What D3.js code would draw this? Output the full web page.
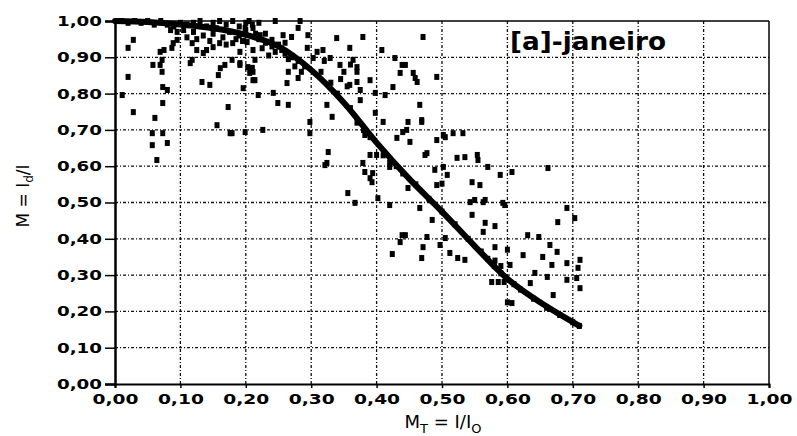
<!DOCTYPE html>
<html>
<head>
<meta charset="utf-8">
<script src="https://cdn.jsdelivr.net/npm/d3@7"></script>
<style>
  html, body { margin: 0; padding: 0; background: #fff; }
  svg { display: block; }
</style>
</head>
<body>
<svg id="chart" width="797" height="436"></svg>
<script>
// ---- data ----
const xTicks = [0, 0.1, 0.2, 0.3, 0.4, 0.5, 0.6, 0.7, 0.8, 0.9, 1.0];
const yTicks = [0, 0.1, 0.2, 0.3, 0.4, 0.5, 0.6, 0.7, 0.8, 0.9, 1.0];
const tickLabels = ["0,00","0,10","0,20","0,30","0,40","0,50","0,60","0,70","0,80","0,90","1,00"];
const titleText = "[a]-janeiro";

// fitted curve
const curveX = [0, 0.05, 0.1, 0.15, 0.2, 0.25, 0.3, 0.35, 0.4, 0.45, 0.5, 0.55, 0.6, 0.65, 0.71];
const curveY = [1.0, 0.997, 0.99, 0.98, 0.962, 0.93, 0.865, 0.775, 0.665, 0.565, 0.475, 0.38, 0.29, 0.225, 0.16];

// observed points
const scatterX = [
 0.028,0.020,0.058,0.069,0.072,0.069,0.072,0.020,0.073,0.080,0.011,0.073,0.028,0.061,0.057,0.073,0.057,0.080,0.064,0.087,0.089,0.095,0.075,
 0.01,0.02,0.03,0.04,0.05,0.06,0.07,0.08,0.09,0.10,0.095,0.085,
 0.115,0.133,0.145,0.156,0.161,0.168,0.173,0.118,0.125,0.118,0.135,0.150,0.160,0.158,0.179,0.191,0.180,0.203,0.211,0.211,0.179,0.199,
 0.11,0.12,0.13,0.14,0.15,0.16,0.17,0.18,0.19,0.12,0.135,0.15,0.165,0.175,0.19,0.20,0.105,0.125,0.145,0.155,0.185,0.195,0.17,0.14,0.11,0.20,0.205,0.21,0.22,
 0.199,0.211,0.245,0.283,0.280,0.257,0.270,0.240,0.222,0.202,0.191,0.211,0.214,0.191,0.210,0.214,0.206,0.196,0.219,0.242,0.249,0.263,0.265,0.280,0.295,0.294,0.309,0.318,0.303,0.339,0.329,0.344,0.324,0.332,0.326,0.324,0.298,0.298,0.226,0.176,0.265,
 0.22,0.23,0.24,0.25,0.26,0.27,0.28,0.29,0.23,0.245,0.255,0.265,0.275,0.285,0.225,0.235,0.26,0.215,
 0.379,0.471,0.408,0.428,0.439,0.444,0.436,0.456,0.462,0.492,0.425,0.398,0.413,0.390,0.370,0.375,0.466,0.398,0.410,0.448,0.469,0.440,0.451,0.431,0.492,0.502,0.517,0.532,0.477,0.523,0.535,0.502,0.508,0.489,0.492,0.500,0.382,0.390,0.400,0.420,0.448,
 0.359,0.364,0.370,0.359,0.382,0.375,
 0.33,0.34,0.36,0.37,0.38,0.39,0.41,0.42,0.43,0.44,
 0.35,0.36,0.345,0.355,0.37,0.32,0.315,
 0.459,0.469,0.446,0.505,0.474,0.554,0.555,0.570,0.589,0.607,0.662,0.546,0.558,0.543,0.563,0.593,
 0.321,0.356,0.367,0.379,0.390,0.394,0.393,
 0.402,0.420,0.466,0.485,0.439,0.444,0.436,0.477,0.471,0.424,0.469,0.497,0.505,0.512,0.524,0.535,
 0.550,0.566,0.546,0.566,0.581,0.596,0.691,0.703,0.677,0.563,0.581,0.631,0.648,0.665,0.676,0.624,0.654,0.668,0.691,0.711,0.708,0.642,0.661,0.691,0.706,0.711,0.576,0.586,0.595,0.607,0.600,0.635,0.670,0.604,0.600,0.581,0.590,
 0.46,0.48,0.50,0.52,0.54,0.56,0.57,0.58,0.59,0.61,0.62,0.64,0.66,0.68,0.70,0.71
];
const scatterY = [
 0.948,0.926,0.879,0.915,0.893,0.879,0.860,0.846,0.818,0.810,0.796,0.774,0.749,0.733,0.691,0.691,0.658,0.664,0.617,0.926,0.939,0.948,0.920,
 1.0,0.995,1.0,0.995,1.0,0.99,1.0,0.99,0.985,0.995,0.97,0.975,
 0.884,0.832,0.824,0.713,0.870,0.879,0.763,0.939,0.920,0.893,0.912,0.928,0.939,0.851,0.893,0.884,0.939,0.873,0.860,0.837,0.691,0.694,
 0.99,0.995,1.0,0.985,0.995,1.0,0.99,1.0,0.985,0.97,0.96,0.965,0.955,0.97,0.96,0.975,0.975,0.95,0.945,0.98,0.95,0.945,0.935,0.92,0.955,0.995,1.0,0.99,0.995,
 0.981,0.981,1.0,1.0,0.981,0.961,0.956,0.948,0.961,0.942,0.915,0.920,0.893,0.879,0.871,0.837,0.857,0.815,0.796,0.802,0.774,0.829,0.769,0.843,0.961,0.926,0.915,0.920,0.898,0.953,0.898,0.879,0.769,0.736,0.639,0.609,0.722,0.691,0.700,0.691,0.860,
 0.95,0.94,0.93,0.935,0.91,0.90,0.89,0.875,0.965,0.915,0.92,0.895,0.875,0.86,0.925,0.905,0.94,0.965,
 0.956,0.956,0.920,0.898,0.879,0.879,0.857,0.857,0.832,0.846,0.818,0.802,0.796,0.837,0.832,0.810,0.769,0.747,0.722,0.722,0.722,0.694,0.667,0.678,0.672,0.686,0.691,0.691,0.636,0.623,0.625,0.598,0.576,0.590,0.548,0.552,0.584,0.567,0.631,0.598,0.540,
 0.926,0.893,0.873,0.824,0.686,0.782,
 0.83,0.80,0.76,0.72,0.70,0.68,0.63,0.61,0.60,0.58,
 0.86,0.88,0.84,0.82,0.86,0.89,0.86,
 0.843,0.727,0.700,0.680,0.631,0.631,0.617,0.598,0.576,0.584,0.595,0.556,0.548,0.501,0.501,0.499,
 0.603,0.526,0.499,0.609,0.631,0.581,0.556,
 0.512,0.493,0.485,0.452,0.410,0.410,0.391,0.405,0.377,0.358,0.347,0.383,0.402,0.361,0.347,0.342,
 0.507,0.507,0.466,0.444,0.435,0.493,0.485,0.457,0.446,0.419,0.377,0.410,0.405,0.383,0.364,0.355,0.350,0.328,0.333,0.342,0.320,0.306,0.295,0.287,0.292,0.264,0.281,0.281,0.281,0.223,0.225,0.278,0.245,0.328,0.370,0.340,0.325,
 0.55,0.51,0.475,0.44,0.40,0.365,0.345,0.325,0.305,0.275,0.26,0.235,0.21,0.19,0.17,0.16
];

// ---- layout ----
const svg = d3.select("#chart");
const L = 115, R = 769, T = 21, B = 384;
const x = d3.scaleLinear().domain([0, 1]).range([L, R]);
const y = d3.scaleLinear().domain([0, 1]).range([B, T]);
const fontTick = "'DejaVu Sans', sans-serif";

// grid
const grid = svg.append("g");
grid.selectAll("line.v").data(xTicks.slice(1, -1)).join("line")
  .attr("x1", d => x(d)).attr("x2", d => x(d)).attr("y1", T).attr("y2", B)
  .attr("stroke", "#111").attr("stroke-width", 1.3).attr("stroke-dasharray", "3,2,1,2");
grid.selectAll("line.h").data(yTicks.slice(1, -1)).join("line")
  .attr("x1", L).attr("x2", R).attr("y1", d => y(d)).attr("y2", d => y(d))
  .attr("stroke", "#111").attr("stroke-width", 1.3).attr("stroke-dasharray", "3,2,1,2");

// frame
svg.append("line").attr("x1", L).attr("x2", R).attr("y1", T).attr("y2", T).attr("stroke", "#000").attr("stroke-width", 1.5);
svg.append("line").attr("x1", R).attr("x2", R).attr("y1", T).attr("y2", B).attr("stroke", "#000").attr("stroke-width", 1.5);

// axes
const yAxis = d3.axisLeft(y).tickValues(yTicks).tickSize(10).tickPadding(3)
  .tickFormat((d, i) => tickLabels[i]);
const gy = svg.append("g").attr("transform", `translate(${L},0)`).call(yAxis);
gy.select(".domain").attr("stroke-width", 2.5);
gy.selectAll(".tick line").attr("stroke-width", 1.5);
gy.selectAll("text").attr("font-family", fontTick).attr("font-weight", "bold")
  .attr("font-size", 14).attr("fill", "#000")
  .attr("textLength", 45).attr("lengthAdjust", "spacingAndGlyphs");

const xAxis = d3.axisBottom(x).tickValues(xTicks).tickSize(4).tickPadding(6)
  .tickFormat((d, i) => tickLabels[i]);
const gx = svg.append("g").attr("transform", `translate(0,${B})`).call(xAxis);
gx.select(".domain").attr("stroke-width", 2);
gx.selectAll(".tick line").attr("stroke-width", 1.5);
gx.selectAll("text").attr("font-family", fontTick).attr("font-weight", "bold")
  .attr("font-size", 14).attr("fill", "#000")
  .attr("textLength", 46).attr("lengthAdjust", "spacingAndGlyphs");
svg.selectAll(".domain").attr("stroke", "#000");

// scatter points
const pts = scatterX.map((v, i) => [v, scatterY[i]]);
svg.append("g").selectAll("rect").data(pts).join("rect")
  .attr("x", d => x(d[0]) - 2.5).attr("y", d => y(d[1]) - 3)
  .attr("width", 5).attr("height", 6).attr("fill", "#000");

// fitted curve
const line = d3.line().x(d => x(d[0])).y(d => y(d[1])).curve(d3.curveCatmullRom.alpha(0.5));
svg.append("path").datum(curveX.map((v, i) => [v, curveY[i]]))
  .attr("d", line).attr("fill", "none").attr("stroke", "#000")
  .attr("stroke-width", 6).attr("stroke-linecap", "round");

// title
svg.append("text").attr("x", 510).attr("y", 50)
  .attr("font-family", fontTick).attr("font-weight", "bold").attr("font-size", 25)
  .attr("textLength", 156).attr("lengthAdjust", "spacingAndGlyphs")
  .attr("fill", "#000").text(titleText);

// y label
const yl = svg.append("text").attr("transform", "translate(29,196) rotate(-90)")
  .attr("text-anchor", "middle").attr("font-family", fontTick).attr("font-size", 17).attr("fill", "#000");
yl.append("tspan").text("M = I");
yl.append("tspan").attr("font-size", 12).attr("dy", 4).text("d");
yl.append("tspan").attr("dy", -4).text("/I");

// x label
const xl = svg.append("text").attr("x", 443).attr("y", 428)
  .attr("text-anchor", "middle").attr("font-family", fontTick).attr("font-size", 18).attr("fill", "#000");
xl.append("tspan").text("M");
xl.append("tspan").attr("font-size", 13).attr("dy", 5).text("T");
xl.append("tspan").attr("dy", -5).text(" = I/I");
xl.append("tspan").attr("font-size", 13).attr("dy", 5).text("O");
</script>
</body>
</html>
